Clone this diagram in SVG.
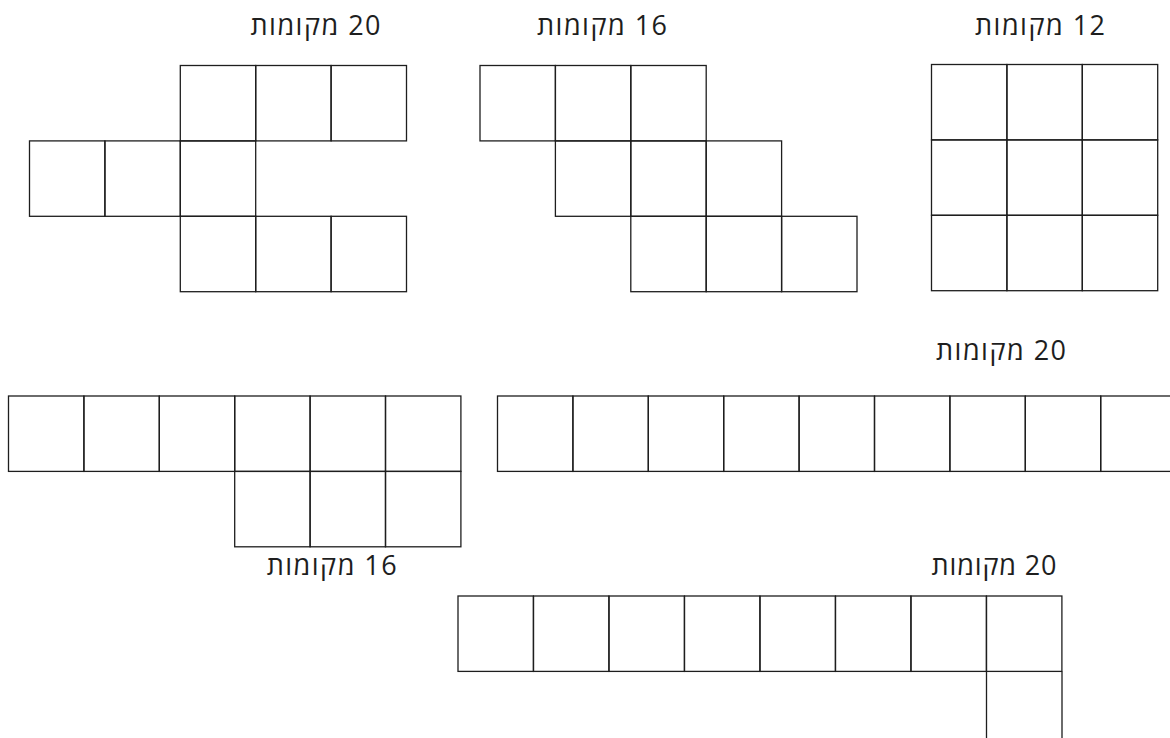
<svg xmlns="http://www.w3.org/2000/svg" xmlns:xlink="http://www.w3.org/1999/xlink" width="1170" height="738" viewBox="0 0 1170 738">
<style>
.c{fill:none;stroke:#1e1e1e;stroke-width:1.3}
.l{font-family:"Open Sans","DejaVu Sans",sans-serif;font-size:27px;fill:#1e1e1e;text-anchor:middle}
</style>
<defs>
<rect id="sq" width="75.4" height="75.4" class="c"/>
</defs>
<rect width="1170" height="738" fill="#fff"/>
<g id="grid12">
<text class="l" x="1040" y="35" direction="rtl" textLength="130" lengthAdjust="spacing">12 מקומות</text>
<use xlink:href="#sq" x="931.5" y="64.5"/><use xlink:href="#sq" x="1006.9" y="64.5"/><use xlink:href="#sq" x="1082.3" y="64.5"/>
<use xlink:href="#sq" x="931.5" y="139.9"/><use xlink:href="#sq" x="1006.9" y="139.9"/><use xlink:href="#sq" x="1082.3" y="139.9"/>
<use xlink:href="#sq" x="931.5" y="215.3"/><use xlink:href="#sq" x="1006.9" y="215.3"/><use xlink:href="#sq" x="1082.3" y="215.3"/>
</g>
<g id="stair16">
<text class="l" x="602" y="35" direction="rtl" textLength="130" lengthAdjust="spacing">16 מקומות</text>
<use xlink:href="#sq" x="480" y="65.5"/><use xlink:href="#sq" x="555.4" y="65.5"/><use xlink:href="#sq" x="630.8" y="65.5"/>
<use xlink:href="#sq" x="555.4" y="140.9"/><use xlink:href="#sq" x="630.8" y="140.9"/><use xlink:href="#sq" x="706.2" y="140.9"/>
<use xlink:href="#sq" x="630.8" y="216.3"/><use xlink:href="#sq" x="706.2" y="216.3"/><use xlink:href="#sq" x="781.6" y="216.3"/>
</g>
<g id="shape20a">
<text class="l" x="315.5" y="35" direction="rtl" textLength="130" lengthAdjust="spacing">20 מקומות</text>
<use xlink:href="#sq" x="180.3" y="65.5"/><use xlink:href="#sq" x="255.7" y="65.5"/><use xlink:href="#sq" x="331.1" y="65.5"/>
<use xlink:href="#sq" x="29.5" y="140.9"/><use xlink:href="#sq" x="104.9" y="140.9"/><use xlink:href="#sq" x="180.3" y="140.9"/>
<use xlink:href="#sq" x="180.3" y="216.3"/><use xlink:href="#sq" x="255.7" y="216.3"/><use xlink:href="#sq" x="331.1" y="216.3"/>
</g>
<g id="shape16b">
<use xlink:href="#sq" x="8.5" y="396"/><use xlink:href="#sq" x="83.9" y="396"/><use xlink:href="#sq" x="159.3" y="396"/>
<use xlink:href="#sq" x="234.7" y="396"/><use xlink:href="#sq" x="310.1" y="396"/><use xlink:href="#sq" x="385.5" y="396"/>
<use xlink:href="#sq" x="234.7" y="471.4"/><use xlink:href="#sq" x="310.1" y="471.4"/><use xlink:href="#sq" x="385.5" y="471.4"/>
<text class="l" x="331.7" y="575" direction="rtl" textLength="130" lengthAdjust="spacing">16 מקומות</text>
</g>
<g id="row20">
<text class="l" x="1001" y="360" direction="rtl" textLength="130" lengthAdjust="spacing">20 מקומות</text>
<use xlink:href="#sq" x="497.5" y="396"/><use xlink:href="#sq" x="572.9" y="396"/><use xlink:href="#sq" x="648.3" y="396"/>
<use xlink:href="#sq" x="723.7" y="396"/><use xlink:href="#sq" x="799.1" y="396"/><use xlink:href="#sq" x="874.5" y="396"/>
<use xlink:href="#sq" x="949.9" y="396"/><use xlink:href="#sq" x="1025.3" y="396"/><use xlink:href="#sq" x="1100.7" y="396"/>
</g>
<g id="shape20c">
<text class="l" x="994" y="575" direction="rtl" textLength="125" lengthAdjust="spacing">20 מקומות</text>
<use xlink:href="#sq" x="458" y="596"/><use xlink:href="#sq" x="533.5" y="596"/><use xlink:href="#sq" x="609" y="596"/>
<use xlink:href="#sq" x="684.5" y="596"/><use xlink:href="#sq" x="760" y="596"/><use xlink:href="#sq" x="835.5" y="596"/>
<use xlink:href="#sq" x="911" y="596"/><use xlink:href="#sq" x="986.5" y="596"/>
<path class="c" d="M986.5 671.4V738M1062 671.4V738"/>
</g>
<g id="connectors"/>
</svg>
